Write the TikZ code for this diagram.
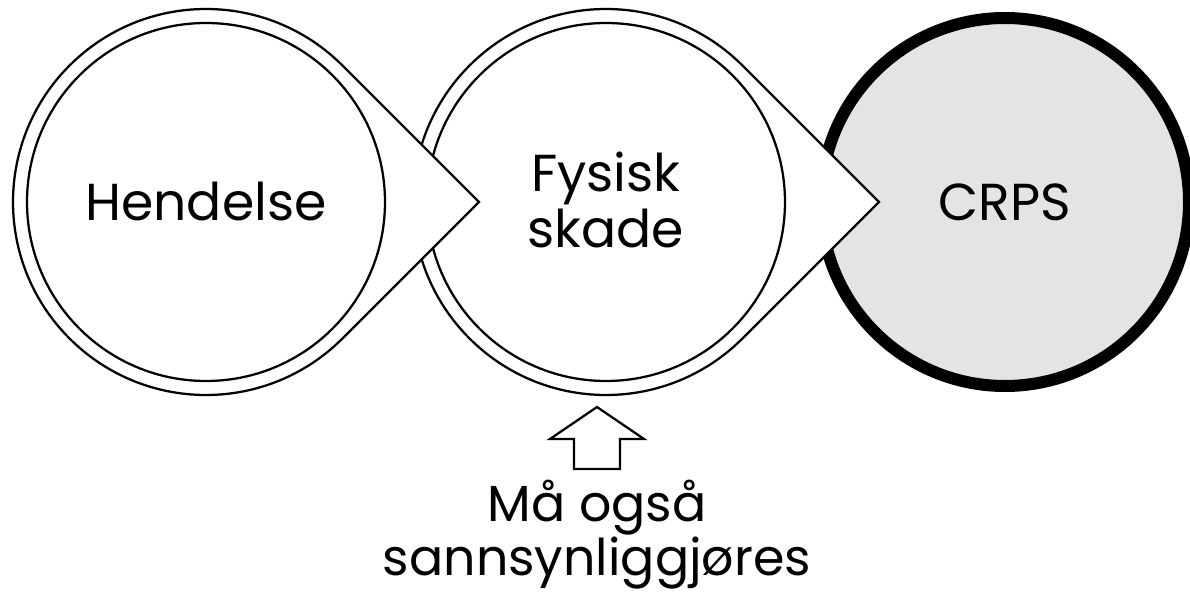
\documentclass[tikz,border=0pt]{standalone}
\usepackage{fontspec}
\setmainfont{Poppins}
\definecolor{crpsgray}{HTML}{E4E4E4}
\tikzset{
  drop/.style={draw=black, fill=white, line width=1.7pt, line join=miter},
  ring/.style={draw=black, fill=white, line width=1.7pt},
  goalring/.style={draw=black, fill=crpsgray, line width=9pt},
  word/.style={font=\fontsize{39}{42.75}\selectfont, align=center, inner sep=0pt},
  note/.style={font=\fontsize{38}{31}\selectfont, align=center, inner sep=0pt},
}
% circle with a pointer to the right, and the inner ring
\newcommand{\dropcircle}[1]{%
  \draw[drop] ([shift={(45:193)}]#1) -- ([shift={(273,0)}]#1)
    -- ([shift={(-45:193)}]#1) arc[start angle=-45, end angle=-315, radius=193] -- cycle;
  \draw[ring] (#1) circle (179);
}
\begin{document}
\begin{tikzpicture}[x=0.75pt, y=0.75pt]
  \useasboundingbox (-206,-394) rectangle (984,202);
  \coordinate (hendelse) at (0,0);
  \coordinate (skade) at (400,0);
  \coordinate (crps) at (799,0);
  % last one first, so that the pointers lie on top
  \draw[goalring] (crps) circle (184);
  \dropcircle{skade}
  \dropcircle{hendelse}
  \node[word, anchor=base] (t1) at (0,-19) {Hendelse};
  \node[word, anchor=base] (t2) at (400,-46) {Fysisk\\skade};
  \node[word, anchor=base] (t3) at (799,-19) {CRPS};
  % block arrow up
  \coordinate (up) at (391,-205);
  \draw[line width=1.7pt, line join=miter, fill=white] (up) -- ++(47,-32) -- ++(-24,0) -- ++(0,-30)
    -- ++(-46,0) -- ++(0,30) -- ++(-24,0) -- cycle;
  \node[note, anchor=base] (t4) at (391,-373) {Må også\\sannsynliggjøres};
\end{tikzpicture}
\end{document}
